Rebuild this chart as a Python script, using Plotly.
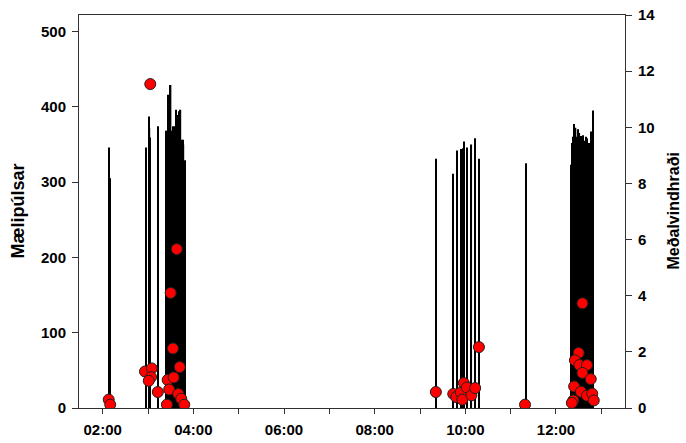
import plotly.graph_objects as go

DAY = "2020-01-01 "

# Mælipúlsar (vertical lines, left axis)
pulse_times = [
    "02:08", "02:10",
    "02:57", "03:01", "03:02", "03:03", "03:13",
    "03:24", "03:25", "03:26", "03:27", "03:28", "03:29", "03:30", "03:31", "03:32",
    "03:33", "03:34", "03:35", "03:36", "03:37", "03:38", "03:39", "03:40", "03:41",
    "03:42", "03:43", "03:44", "03:45", "03:46", "03:47", "03:49",
    "09:21", "09:44", "09:49", "09:54", "09:55", "09:57", "09:58", "10:02", "10:08",
    "10:13", "10:18", "11:20",
    "12:20", "12:21", "12:22", "12:23", "12:24", "12:25", "12:26", "12:27", "12:28",
    "12:29", "12:30", "12:31", "12:32", "12:33", "12:34", "12:35", "12:36", "12:37",
    "12:38", "12:40", "12:41", "12:42", "12:44", "12:45", "12:46", "12:47", "12:48",
    "12:49",
]
pulse_values = [
    346, 305,
    346, 387, 372, 359, 374,
    368, 368, 365, 416, 378, 350, 429, 368, 355,
    374, 361, 350, 374, 396, 370, 389, 356, 394,
    360, 396, 350, 356, 356, 350, 329,
    331, 311, 342, 340, 344, 345, 354, 346, 350,
    358, 331, 325,
    323, 330, 352, 360, 377, 355, 372, 350, 360,
    370, 350, 365, 350, 355, 361, 350, 362, 350,
    355, 360, 358, 350, 352, 350, 350, 367, 350,
    395,
]

# Meðalvindhraði (red circles, right axis)
wind_times = [
    "02:08", "02:10",
    "02:56", "03:05", "03:04", "03:01", "03:13", "03:03",
    "03:25", "03:26", "03:28", "03:30", "03:33", "03:34", "03:38", "03:40", "03:42",
    "03:44", "03:48",
    "09:21", "09:44", "09:48", "09:54", "09:56", "09:58", "10:02", "10:08", "10:13",
    "10:18", "11:19",
    "12:35", "12:30", "12:25", "12:31", "12:41", "12:35", "12:46", "12:24", "12:33",
    "12:41", "12:48", "12:23", "12:21", "12:50",
]
wind_values = [
    0.30, 0.12,
    1.30, 1.41, 1.10, 0.97, 0.57, 11.54,
    0.12, 1.00, 0.66, 4.10, 2.12, 1.09, 5.66, 0.50, 1.46,
    0.33, 0.12,
    0.57, 0.50, 0.39, 0.56, 0.30, 0.89, 0.73, 0.45, 0.71,
    2.17, 0.12,
    3.73, 1.96, 1.70, 1.53, 1.53, 1.25, 1.03, 0.77, 0.58,
    0.44, 0.51, 0.27, 0.18, 0.27,
]

tick_vals = [DAY + t for t in ["02:00", "04:00", "06:00", "08:00", "10:00", "12:00"]]
tick_text = ["02:00", "04:00", "06:00", "08:00", "10:00", "12:00"]

FONT = "Arial, Liberation Sans, sans-serif"
AX = "#303030"
TICKFONT = dict(size=15, weight="bold", family=FONT, color="black")
LEFTTITLEFONT = dict(size=18, weight="bold", family=FONT, color="black")
RIGHTTITLEFONT = dict(size=16, weight="bold", family=FONT, color="black")

W, H = 686, 443
ML, MR, MT, MB = 79, 61, 15, 35
PW = W - ML - MR

fig = go.Figure()
fig.add_trace(go.Bar(
    x=[DAY + t for t in pulse_times], y=pulse_values,
    width=[110000] * len(pulse_times),
    marker=dict(color="black", line=dict(width=0)),
    yaxis="y", showlegend=False,
))
fig.add_trace(go.Scatter(
    x=[DAY + t for t in wind_times], y=wind_values,
    mode="markers", yaxis="y2", showlegend=False,
    marker=dict(color="#ff0000", size=11, line=dict(color="#202020", width=1)),
))

fig.update_layout(
    width=W, height=H,
    margin=dict(l=ML, r=MR, t=MT, b=MB, pad=0),
    paper_bgcolor="white", plot_bgcolor="white",
    font=dict(family=FONT, color="black"),
    xaxis=dict(
        type="date", automargin=False,
        range=[DAY + "01:28:40", DAY + "13:31:20"],
        tickvals=tick_vals, ticktext=tick_text,
        ticks="outside", ticklen=5, tickcolor=AX, tickwidth=1,
        minor=dict(dtick=3600000, ticks="outside", ticklen=5, tickcolor=AX, tickwidth=1),
        showline=True, linecolor=AX, linewidth=1, mirror=True,
        showgrid=False, zeroline=False,
        tickfont=TICKFONT, ticklabeloverflow="allow",
        ticklabelstandoff=3,
    ),
    yaxis=dict(
        range=[0, 521.8], automargin=False,
        tickvals=[0, 100, 200, 300, 400, 500],
        ticks="outside", ticklen=6, tickcolor=AX,
        showline=True, linecolor=AX, linewidth=1,
        showgrid=False, zeroline=False,
        tickfont=TICKFONT, ticklabelstandoff=3, ticklabeloverflow="allow",
    ),
    yaxis2=dict(
        range=[0, 14], overlaying="y", side="right", automargin=False,
        tickvals=[0, 2, 4, 6, 8, 10, 12, 14],
        ticks="outside", ticklen=6, tickcolor=AX,
        showline=True, linecolor=AX, linewidth=1,
        showgrid=False, zeroline=False,
        tickfont=TICKFONT, ticklabelstandoff=3, ticklabeloverflow="allow",
    ),
    annotations=[
        dict(text="Mælipúlsar", xref="paper", yref="paper", x=(17 - ML) / PW, y=0.5,
             xanchor="center", yanchor="middle", textangle=-90, showarrow=False, font=LEFTTITLEFONT),
        dict(text="Meðalvindhraði", xref="paper", yref="paper", x=(673 - ML) / PW, y=0.5,
             xanchor="center", yanchor="middle", textangle=-90, showarrow=False, font=RIGHTTITLEFONT),
    ],
)

# remove the browser's default 8px page margin so the figure sits at the window origin
fig.write_html(
    "out.html",
    config={"displayModeBar": False},
    post_script="document.body.style.margin='0';document.body.style.overflow='hidden';",
)
